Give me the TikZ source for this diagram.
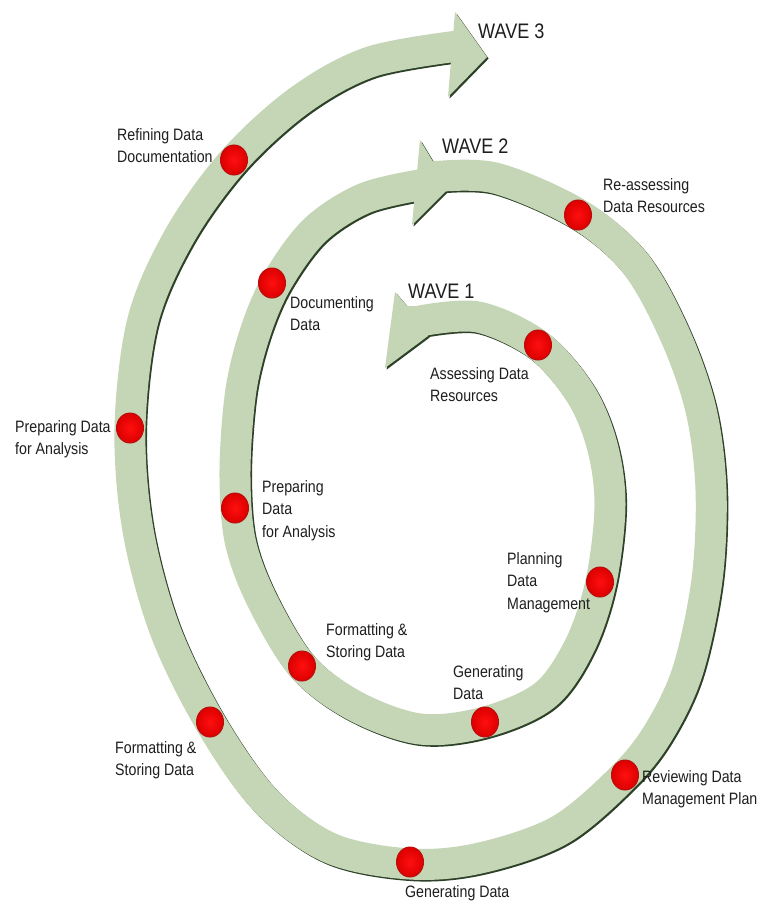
\documentclass[tikz,border=0pt]{standalone}
\usepackage{fontspec}
\setmainfont{Liberation Sans}[FakeStretch=0.86]
\usetikzlibrary{shapes.geometric}
\definecolor{band}{RGB}{196,214,181}
\definecolor{bandshadow}{RGB}{45,65,40}
\definecolor{dotred}{RGB}{255,15,15}
\definecolor{dotdark}{RGB}{220,0,0}
\definecolor{dotedge}{RGB}{185,15,15}
\definecolor{txt}{RGB}{30,30,30}
\begin{document}
\begin{tikzpicture}[x=1pt,y=-1pt,
  bandline/.style={line width=31pt, line cap=butt, line join=round, draw=band},
  shadowline/.style={line width=31pt, line cap=butt, line join=round, draw=bandshadow},
  reddot/.style={ellipse, minimum width=27pt, minimum height=30pt, inner sep=0pt,
     draw=dotedge, line width=1pt, inner color=dotred, outer color=dotdark},
  lbl/.style={anchor=base west, inner sep=0pt, align=left, text=txt,
     font=\fontsize{16.5}{22.5}\selectfont},
  wave/.style={anchor=base west, inner sep=0pt, text=txt,
     font=\fontsize{21}{24}\selectfont}]
\useasboundingbox (0,0) rectangle (773,910);
\fill[white] (0,0) rectangle (773,910);

\def\pathA{plot[smooth,tension=0.55] coordinates{(420,321) (478,317) (538,345) (580,393) (602,445) (610,505) (601,582) (580,645) (545,695) (485,722) (420,729) (355,706) (302,666) (262,600) (240,540) (235,470) (241,390) (256,330) (278,280) (315,230) (365,198) (425,184)}}
\def\pathB{plot[smooth,tension=0.55] coordinates{(432,177) (495,178) (578,214) (635,263) (675,335) (701,410) (711,490) (707,580) (688,670) (660,730) (625,775) (560,830) (480,858) (410,864) (330,848) (265,800) (210,722) (165,630) (138,530) (130,428) (143,320) (180,235) (234,160) (300,100) (370,62) (458,46)}}
\def\headA{(395,292) -- (407,306) -- (428,306) -- (428,336) -- (385,368) -- cycle}
\def\headB{(420,140) -- (449,188) -- (412,225) -- cycle}
\def\headC{(455,12) -- (487,57) -- (448,97) -- cycle}

% shadows
\begin{scope}[shift={(1.6,1.6)}]
  \draw[shadowline] \pathA;
  \draw[shadowline] \pathB;
  \fill[bandshadow] \headA;
  \fill[bandshadow] \headB;
  \fill[bandshadow] \headC;
\end{scope}
% bands
\draw[bandline] \pathA;
\draw[bandline] \pathB;
\fill[band] \headA;
\fill[band] \headB;
\fill[band] \headC;

% dots
\node[reddot] (refine) at (234,160) {};
\node[reddot] (reassess) at (578,215) {};
\node[reddot] (document) at (272,283) {};
\node[reddot] (assess) at (538,345) {};
\node[reddot] (prepout) at (130,428) {};
\node[reddot] (prepin) at (235,508) {};
\node[reddot] (plan) at (600,582) {};
\node[reddot] (formin) at (302,666) {};
\node[reddot] (genin) at (485,722) {};
\node[reddot] (formout) at (210,722) {};
\node[reddot] (review) at (625,775) {};
\node[reddot] (genout) at (410,862) {};

% wave labels
\node[wave] (w3) at (478,38) {WAVE 3};
\node[wave] (w2) at (442,153) {WAVE 2};
\node[wave] (w1) at (408,298) {WAVE 1};

% step labels (anchor = baseline of last line)
\node[lbl] (trefine) at (117,162.5) {Refining Data\\Documentation};
\node[lbl] (treassess) at (603,212.5) {Re-assessing\\Data Resources};
\node[lbl] (tdocument) at (290,330.5) {Documenting\\Data};
\node[lbl] (tassess) at (430,401.5) {Assessing Data\\Resources};
\node[lbl] (tprepout) at (15,454.5) {Preparing Data\\for Analysis};
\node[lbl] (tprepin) at (262,537) {Preparing\\Data\\for Analysis};
\node[lbl] (tplan) at (507,609) {Planning\\Data\\Management};
\node[lbl] (tformin) at (326,657.5) {Formatting \&\\Storing Data};
\node[lbl] (tgenin) at (453,699.5) {Generating\\Data};
\node[lbl] (tformout) at (115,775.5) {Formatting \&\\Storing Data};
\node[lbl] (treview) at (642,804.5) {Reviewing Data\\Management Plan};
\node[lbl] (tgenout) at (405,897) {Generating Data};
\end{tikzpicture}
\end{document}
